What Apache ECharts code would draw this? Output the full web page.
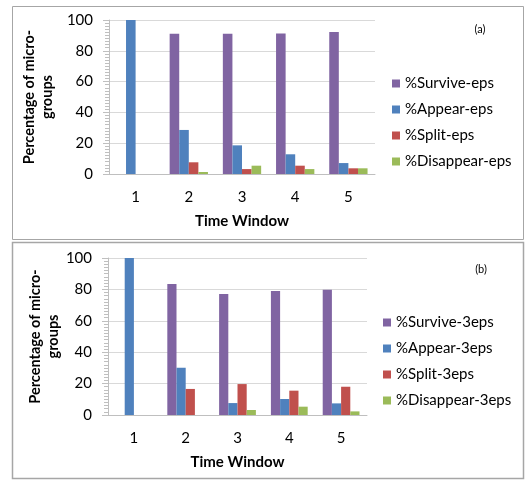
<!DOCTYPE html>
<html>
<head>
<meta charset="utf-8">
<script src="https://cdn.jsdelivr.net/npm/echarts@6/dist/echarts.min.js"></script>
<style>
  html, body { margin: 0; padding: 0; background: #fff; }
  #main { width: 531px; height: 481px; }
</style>
</head>
<body>
<div id="main"></div>
<script>
// time windows
const categories = ["1", "2", "3", "4", "5"];
const yTicks = [0, 20, 40, 60, 80, 100];

// panel (a) - eps
const surviveEps = [0, 91, 91, 91.3, 92.2];
const appearEps = [100, 28.6, 18.6, 12.8, 7.1];
const splitEps = [0, 7.6, 3.2, 5.4, 3.7];
const disappearEps = [0, 1.3, 5.4, 3.2, 3.7];

// panel (b) - 3eps
const survive3eps = [0, 83.4, 77, 79, 79.8];
const appear3eps = [100, 30.1, 7.6, 10.2, 7.4];
const split3eps = [0, 16.6, 19.7, 15.5, 18];
const disappear3eps = [0, 0, 3.2, 5.3, 2.3];

const colors = ["#8064A2", "#4F81BD", "#C0504D", "#9BBB59"];
const font = "Lato, 'Open Sans', sans-serif";

function xAxisFor(grid) {
  return {
    type: "category",
    gridIndex: grid,
    data: categories,
    axisLine: { lineStyle: { color: "#BFBFBF" } },
    axisTick: { show: false },
    axisLabel: { color: "#000", fontSize: 15, fontFamily: font, margin: 16 },
    name: "Time Window",
    nameLocation: "middle",
    nameGap: 40,
    nameTextStyle: { color: "#000", fontSize: 15, fontWeight: "bold", fontFamily: font }
  };
}

function yAxisFor(grid) {
  return {
    type: "value",
    gridIndex: grid,
    min: yTicks[0],
    max: yTicks[yTicks.length - 1],
    interval: 20,
    axisLine: { show: true, lineStyle: { color: "#BFBFBF" } },
    axisTick: { show: true, length: 6, lineStyle: { color: "#BFBFBF" } },
    minorTick: { show: true, splitNumber: 10, length: 4, lineStyle: { color: "#BFBFBF" } },
    splitLine: { lineStyle: { color: "#D9D9D9" } },
    axisLabel: { color: "#000", fontSize: 15, fontFamily: font, margin: 16 },
    name: "Percentage of micro-\ngroups",
    nameLocation: "middle",
    nameGap: 46,
    nameTextStyle: { color: "#000", fontSize: 14.5, fontWeight: "bold", fontFamily: font, lineHeight: 18 }
  };
}

function bar(name, data, idx, grid, gap) {
  return {
    name: name,
    type: "bar",
    xAxisIndex: grid,
    yAxisIndex: grid,
    data: data,
    barGap: "0%",
    barCategoryGap: gap,
    itemStyle: { color: colors[idx] }
  };
}

function legendFor(names, left, top) {
  return {
    orient: "vertical",
    left: left,
    top: top,
    data: names,
    icon: "rect",
    itemWidth: 8,
    itemHeight: 8,
    itemGap: 11,
    textStyle: { color: "#000", fontSize: 15, fontFamily: font }
  };
}

let myChart = echarts.init(document.getElementById("main"));
myChart.setOption({
  animation: false,
  color: colors,
  grid: [
    { left: 109, top: 20, width: 266, height: 154 },
    { left: 108, top: 258, width: 259, height: 157 }
  ],
  xAxis: [xAxisFor(0), xAxisFor(1)],
  yAxis: [yAxisFor(0), yAxisFor(1)],
  legend: [
    legendFor(["%Survive-eps", "%Appear-eps", "%Split-eps", "%Disappear-eps"], 387, 71),
    legendFor(["%Survive-3eps", "%Appear-3eps", "%Split-3eps", "%Disappear-3eps"], 378, 310)
  ],
  graphic: [
    { type: "rect", shape: { x: 12.5, y: 6.5, width: 511, height: 233 }, style: { fill: "none", stroke: "#A6A6A6", lineWidth: 1 } },
    { type: "rect", shape: { x: 12.5, y: 242.5, width: 511, height: 236 }, style: { fill: "none", stroke: "#A6A6A6", lineWidth: 1.5 } },
    { type: "text", x: 480, y: 29, style: { text: "(a)", fill: "#000", fontSize: 11, fontFamily: font, textAlign: "center", textVerticalAlign: "middle" } },
    { type: "text", x: 481, y: 269, style: { text: "(b)", fill: "#000", fontSize: 11, fontFamily: font, textAlign: "center", textVerticalAlign: "middle" } }
  ],
  series: [
    bar("%Survive-eps", surviveEps, 0, 0, "28%"),
    bar("%Appear-eps", appearEps, 1, 0, "28%"),
    bar("%Split-eps", splitEps, 2, 0, "28%"),
    bar("%Disappear-eps", disappearEps, 3, 0, "28%"),
    bar("%Survive-3eps", survive3eps, 0, 1, "29%"),
    bar("%Appear-3eps", appear3eps, 1, 1, "29%"),
    bar("%Split-3eps", split3eps, 2, 1, "29%"),
    bar("%Disappear-3eps", disappear3eps, 3, 1, "29%")
  ]
});
</script>
</body>
</html>
